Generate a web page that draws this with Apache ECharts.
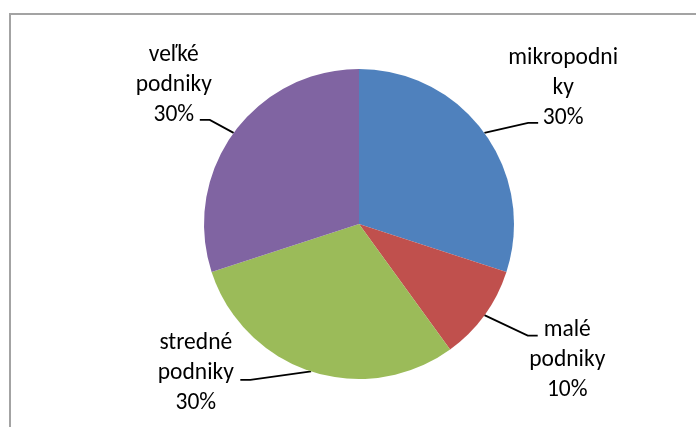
<!DOCTYPE html>
<html>
<head>
<meta charset="utf-8">
<script src="https://cdn.jsdelivr.net/npm/echarts@6/dist/echarts.min.js"></script>
<style>
  html, body { margin: 0; padding: 0; background: #fff; }
  #chart { width: 696px; height: 427px; }
</style>
</head>
<body>
<div id="chart"></div>
<script>
// Company size categories and their shares (%)
const categories = ['mikropodniky', 'malé podniky', 'stredné podniky', 'veľké podniky'];
const shares = [30, 10, 30, 30];
// Label text as it is broken into lines next to each slice
const labelLinesText = [
  ['mikropodni', 'ky'],
  ['malé', 'podniky'],
  ['stredné', 'podniky'],
  ['veľké', 'podniky']
];
const sliceColors = ['#4F81BD', '#C0504D', '#9BBB59', '#8064A2'];

// Per-slice label placement: leader lengths, label box width and padding
const labelPlacement = [
  { length: 17, length2: 40, width: 46, padding: [0, 0, 70, 0] },
  { length: 35, length2: 25, width: 55, padding: [48, 0, 0, 0] },
  { length: 9, length2: 68, width: 85, padding: [0, 0, 14, 0] },
  { length: 22, length2: 16, width: 48, padding: [0, 0, 70, 0] }
];

const FONT = 'Carlito, Lato, sans-serif';
const FONT_SIZE = 23.5;

const data = categories.map((name, i) => ({
  name: name,
  value: shares[i],
  itemStyle: { color: sliceColors[i] },
  label: {
    width: labelPlacement[i].width,
    padding: labelPlacement[i].padding
  },
  labelLine: {
    length: labelPlacement[i].length,
    length2: labelPlacement[i].length2
  }
}));

const chart = echarts.init(document.getElementById('chart'), null, { renderer: 'canvas' });

chart.setOption({
  backgroundColor: '#ffffff',
  animation: false,
  graphic: [{
    type: 'rect',
    shape: { x: 10, y: 14, width: 760, height: 500 },
    style: { fill: 'none', stroke: '#a3a3a3', lineWidth: 2 },
    silent: true
  }],
  series: [{
    type: 'pie',
    center: [359, 224],
    radius: 155,
    startAngle: 90,
    clockwise: true,
    avoidLabelOverlap: false,
    data: data,
    itemStyle: { borderWidth: 0 },
    label: {
      show: true,
      position: 'outside',
      alignTo: 'none',
      distanceToLabelLine: 2,
      overflow: 'none',
      color: '#000',
      fontFamily: FONT,
      fontSize: FONT_SIZE,
      formatter: function (p) {
        const lines = labelLinesText[p.dataIndex].concat([Math.round(p.percent) + '%']);
        return lines.map(t => '{t|' + t + '}').join('\n');
      },
      rich: {
        t: {
          align: 'center',
          fontFamily: FONT,
          fontSize: FONT_SIZE,
          lineHeight: 30,
          color: '#000'
        }
      }
    },
    labelLine: {
      show: true,
      lineStyle: { color: '#000', width: 1.8 }
    },
    // Excel-style leaders: a long slanted run and a short horizontal tail
    labelLayout: function (p) {
      const pts = p.labelLinePoints;
      if (!pts || pts.length < 3) return {};
      const end = pts[2];
      const knee = pts[1];
      const dir = knee[0] > end[0] ? 1 : -1;
      return {
        labelLinePoints: [pts[0], [end[0] + dir * 10, end[1]], end]
      };
    }
  }]
});
</script>
</body>
</html>
